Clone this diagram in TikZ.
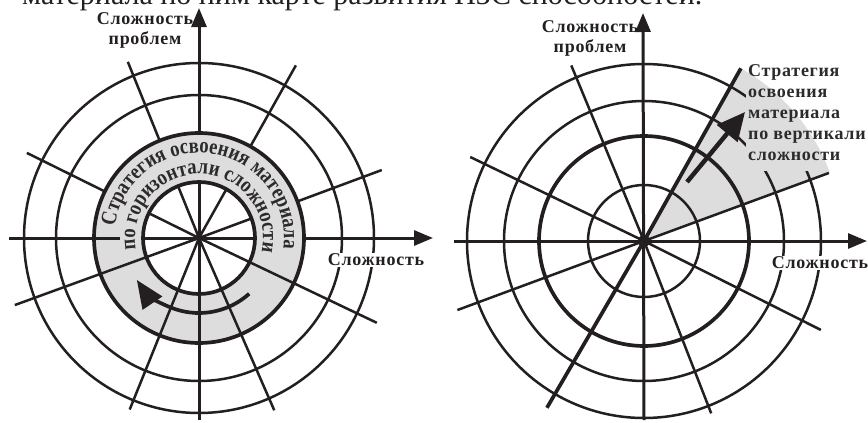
\documentclass[tikz,border=0pt]{standalone}
\usepackage{fontspec}
\setmainfont{Liberation Serif}
\usepackage{xcolor}
\usepackage{tikz}
\usetikzlibrary{arrows.meta, decorations.text, positioning}
\definecolor{inkblack}{RGB}{35, 31, 32}
\definecolor{ringgray}{RGB}{221, 221, 221}
\definecolor{textgray}{RGB}{45, 42, 43}
\newfontfamily\lblfont[LetterSpace=4]{Liberation Serif}
\newfontfamily\arcfont[FakeStretch=0.85]{Liberation Serif}

\begin{document}
\begin{tikzpicture}[x=1pt, y=1pt, >={Triangle[length=19pt,width=15pt]}]
    \tikzset{
        thinring/.style={draw=inkblack, line width=2.5pt},
        thickring/.style={draw=inkblack, line width=3.7pt},
        ray/.style={draw=inkblack, line width=2.5pt},
        thickray/.style={draw=inkblack, line width=3.7pt},
        axis/.style={draw=inkblack, line width=3pt, ->},
        axislabel/.style={font=\lblfont\bfseries\fontsize{18}{20}\selectfont, text=inkblack, inner sep=1pt, align=center},
        arctext/.style={decorate, decoration={text along path, text align={fit to path},
            text={|\arcfont\bfseries\fontsize{22}{22}\selectfont\color{textgray}|#1}}}
    }
    \useasboundingbox (0,0) rectangle (868,-423);
    \clip (0,0) rectangle (868,-423);

    % Caption line cut by the top edge
    \node[anchor=base west, font=\fontsize{30}{30}\selectfont, text=inkblack, inner sep=0pt] (caption) at (22,-5) {материала по ним карте развития НЗС способностей.};

    \coordinate (L) at (199,-238);
    \coordinate (R) at (644,-241);

    % Left disc
    \begin{scope}[shift={(L)}]
        \fill[ringgray, even odd rule] (0,0) circle (105) (0,0) circle (56);
        \draw[thinring] (0,0) circle (143);
        \draw[thinring] (0,0) circle (175);
        \foreach \a/\r in {20.4/195, 60.7/198, 112/190, 153.7/192, 200/196, 248/185, 293.6/188, 334.5/197}
            \draw[ray] (0,0) -- (\a:\r);
        \coordinate (lxa) at (-190,0);
        \coordinate (lxb) at (234,0);
        \coordinate (lya) at (0,-182);
        \coordinate (lyb) at (0,230);
    \end{scope}
    \draw[axis] (lxa) -- (lxb);
    \draw[axis] (lya) -- (lyb);
    \begin{scope}[shift={(L)}]
        % band under the text
        \fill[ringgray] (-6:57) arc[start angle=-6, end angle=170, radius=57] -- (170:104) arc[start angle=170, end angle=-6, radius=104] -- cycle;
        \fill[ringgray] (170:57) arc[start angle=170, end angle=190, radius=57] -- (190:79) arc[start angle=190, end angle=170, radius=79] -- cycle;
        \draw[thickring] (0,0) circle (56);
        \draw[thickring] (0,0) circle (105);
        \path[arctext={Стратегия освоения материала}] (172:85) arc[start angle=172, end angle=-4, radius=85];
        \path[arctext={по горизонтали сложности}] (190:64) arc[start angle=190, end angle=-9, radius=64];
        \draw[inkblack, line width=3.7pt, -{Triangle[length=28pt,width=23pt]}] (-48:75) arc[start angle=-48, end angle=-146, radius=75];
    \end{scope}
    \node[axislabel] (ltop) at (145,-30) {Сложность\\проблем};
    \node[axislabel, fill=white] (lright) at (376,-260) {Сложность};

    % Right disc
    \begin{scope}[shift={(R)}]
        \fill[ringgray] (0,0) -- (20.2:198) arc[start angle=20.2, end angle=60.7, radius=198] -- cycle;
        \draw[thinring] (0,0) circle (56);
        \draw[thickring] (0,0) circle (105);
        \draw[thinring] (0,0) circle (140);
        \draw[thinring] (0,0) circle (177);
        \foreach \a/\r in {20.2/197, 112.5/190, 154.2/193, 200.3/199, 291.3/185, 333.3/198}
            \draw[ray] (0,0) -- (\a:\r);
        \draw[thickray] (0,0) -- (60.7:198);
        \draw[thickray] (0,0) -- (239.8:193);
    \end{scope}
    \coordinate (rxa) at (454,-241);
    \coordinate (rxb) at (867,-241);
    \coordinate (rya) at (644,-420);
    \coordinate (ryb) at (643,-13);
    \draw[axis] (rxa) -- (rxb);
    \draw[axis] (rya) -- (ryb);

    % text block over the sector
    \begin{scope}
        \clip (746,-63) rectangle (868,-170);
        \fill[white] (746,-63) rectangle (868,-170);
        \fill[ringgray] (R) -- ++(20.2:198) arc[start angle=20.2, end angle=60.7, radius=198] -- cycle;
    \end{scope}
    \node[anchor=north west, font=\lblfont\bfseries\fontsize{18}{21}\selectfont, text=textgray, align=left, inner sep=0pt] (vtext) at (748,-64) {Стратегия\\освоения\\материала\\по вертикали\\сложности};
    \coordinate (vfrom) at (687,-182);
    \coordinate (vto) at (745,-112);
    \draw[inkblack, line width=4.5pt, -{Triangle[length=28pt,width=26pt]}] (vfrom) -- (vto);
    \fill[inkblack] (R) circle (6);
    \node[axislabel] (rtop) at (590,-38) {Сложность\\проблем};
    \node[axislabel, fill=white] (rright) at (820,-263) {Сложность};
\end{tikzpicture}
\end{document}
